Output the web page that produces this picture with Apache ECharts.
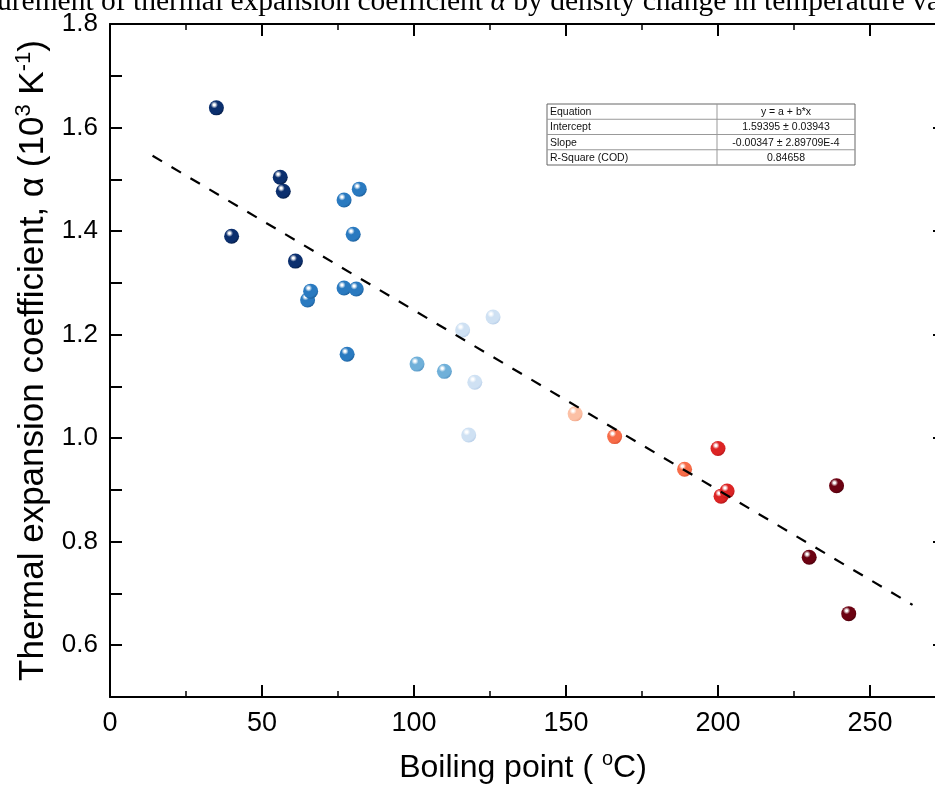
<!DOCTYPE html>
<html>
<head>
<meta charset="utf-8">
<script src="https://cdn.jsdelivr.net/npm/echarts@6/dist/echarts.min.js"></script>
<style>
html, body { margin: 0; padding: 0; background: #fff; }
#container { width: 935px; height: 792px; }
</style>
</head>
<body>
<div id="container"></div>
<script>
// data
var boilingPoint = [35, 40, 56, 57, 61, 65, 66, 77, 82, 80, 77, 81, 78, 101, 110, 116, 126, 120, 118, 153, 166, 189, 200, 201, 203, 239, 230, 243];
var alpha = [1.638, 1.390, 1.504, 1.477, 1.342, 1.267, 1.284, 1.460, 1.481, 1.394, 1.290, 1.288, 1.162, 1.143, 1.129, 1.209, 1.234, 1.108, 1.006, 1.047, 1.003, 0.940, 0.980, 0.888, 0.898, 0.908, 0.770, 0.661];

// linear fit (from the table in the figure)
var intercept = 1.59395;
var slope = -0.00347;
var fitRange = [14, 264];
var fitRows = ['Equation', 'Intercept', 'Slope', 'R-Square (COD)'];
var fitVals = ['y = a + b*x', '1.59395 \u00b1 0.03943', '-0.00347 \u00b1 2.89709E-4', '0.84658'];

var yTicks = [0.6, 0.8, 1.0, 1.2, 1.4, 1.6, 1.8];

// colour bins by boiling point
var binEdges = [62, 90, 112, 140, 160, 195, 220];
var binColors = [
	['#0b2f6e', '#031537'],
	['#2a7ac0', '#17548c'],
	['#70b0d9', '#4b8aba'],
	['#cfe1f3', '#aec6e3'],
	['#fcc0a5', '#eb9c7f'],
	['#f76c48', '#d24627'],
	['#dc2424', '#a11016'],
	['#6c0212', '#3b0009']
];

function sphere(x) {
	var k = 0;
	while (k < binEdges.length && x > binEdges[k]) k++;
	var c = binColors[k];
	return new echarts.graphic.RadialGradient(0.36, 0.3, 0.8, [
		{ offset: 0, color: '#ffffff' },
		{ offset: 0.08, color: '#ffffff' },
		{ offset: 0.3, color: c[0] },
		{ offset: 0.72, color: c[0] },
		{ offset: 1, color: c[1] }
	]);
}

var points = boilingPoint.map(function (x, i) {
	return { value: [x, alpha[i]], itemStyle: { color: sphere(x) } };
});
var fitLine = fitRange.map(function (x) { return [x, intercept + slope * x]; });

var myChart = echarts.init(document.getElementById('container'));

var FONT = 'Liberation Sans, Arial, sans-serif';
var SERIF = 'Liberation Serif, Times New Roman, serif';
var black = { color: '#000', width: 2 };

// fit table
var col1 = 170, col2 = 138, rowH = 15.25;
var tbl = [];
tbl.push({ type: 'rect', shape: { x: 0, y: 0, width: col1 + col2, height: rowH * fitRows.length }, style: { fill: '#fff', stroke: '#666', lineWidth: 1 } });
tbl.push({ type: 'line', shape: { x1: col1, y1: 0, x2: col1, y2: rowH * fitRows.length }, style: { stroke: '#999', lineWidth: 1 } });
fitRows.forEach(function (r, i) {
	if (i > 0) {
		tbl.push({ type: 'line', shape: { x1: 0, y1: rowH * i, x2: col1 + col2, y2: rowH * i }, style: { stroke: '#999', lineWidth: 1 } });
	}
	tbl.push({ type: 'text', x: 3, y: rowH * i + rowH / 2 + 0.5, style: { text: r, fontSize: 10.5, fontFamily: FONT, fill: '#111', verticalAlign: 'middle', align: 'left' } });
	tbl.push({ type: 'text', x: col1 + col2 / 2, y: rowH * i + rowH / 2 + 0.5, style: { text: fitVals[i], fontSize: 10.5, fontFamily: FONT, fill: '#111', verticalAlign: 'middle', align: 'center' } });
});

var nameRich = {
	t: { fontSize: 32, fontFamily: FONT, color: '#000', lineHeight: 38 },
	s: { fontSize: 20, fontFamily: FONT, color: '#000', lineHeight: 38, verticalAlign: 'top', padding: [0, 0, 10, 0] }
};

var option = {
	backgroundColor: '#fff',
	animation: false,
	grid: { left: 110, top: 24, width: 912, height: 673, outerBoundsMode: 'none', containLabel: false },
	xAxis: [{
		type: 'value', position: 'bottom', min: 0, max: 300, interval: 50,
		axisLine: { onZero: false, lineStyle: black },
		axisTick: { inside: true, length: 12, lineStyle: black },
		minorTick: { show: true, splitNumber: 2, length: 6, lineStyle: { color: '#000', width: 1.5 } },
		axisLabel: { fontSize: 27, color: '#000', margin: 13, fontFamily: FONT, showMaxLabel: false },
		splitLine: { show: false },
		name: '{t|Boiling point ( }{s|o}{t|C)}', nameLocation: 'middle', nameGap: 52,
		nameTextStyle: { padding: [0, 86, 0, 0], rich: nameRich }
	}, {
		type: 'value', position: 'top', min: 0, max: 300, interval: 50,
		axisLine: { onZero: false, lineStyle: black },
		axisTick: { inside: true, length: 12, lineStyle: black },
		minorTick: { show: true, splitNumber: 2, length: 6, lineStyle: { color: '#000', width: 1.5 } },
		axisLabel: { show: false }, splitLine: { show: false }
	}],
	yAxis: [{
		type: 'value', position: 'left', min: 0.5, max: 1.8, interval: 0.1,
		axisLine: { onZero: false, lineStyle: black },
		axisTick: { inside: true, length: 12, lineStyle: black },
		axisLabel: {
			fontSize: 26, color: '#000', margin: 12, fontFamily: FONT,
			customValues: yTicks,
			formatter: function (v) { return v.toFixed(1); }
		},
		splitLine: { show: false },
		name: '{t|Thermal expansion coefficient, \u03b1 (10}{s|3}{t| K}{s|-1}{t|)}',
		nameLocation: 'middle', nameGap: 53, nameRotate: 90,
		nameTextStyle: { rich: {
			t: { fontSize: 35, fontFamily: FONT, color: '#000', lineHeight: 41 },
			s: { fontSize: 22, fontFamily: FONT, color: '#000', lineHeight: 41, verticalAlign: 'top', padding: [0, 0, 10, 0] }
		} }
	}, {
		type: 'value', position: 'right', offset: -77, min: 0.5, max: 1.8, interval: 0.1,
		axisLine: { onZero: false, lineStyle: black },
		axisTick: { inside: true, length: 12, lineStyle: black, customValues: yTicks },
		axisLabel: { show: false }, splitLine: { show: false }
	}],
	graphic: [{
		type: 'text', left: -3, top: -13,
		style: {
			text: 'urement of thermal expansion coefficient {i|\u03b1} by density change in temperature va',
			fontSize: 29.5, fontFamily: SERIF, fill: '#000',
			rich: { i: { fontSize: 29.5, fontStyle: 'italic', fontFamily: SERIF, fill: '#000' } }
		}
	}, {
		type: 'group', x: 547, y: 104, children: tbl
	}],
	series: [{
		type: 'scatter',
		symbolSize: 15,
		data: points,
		itemStyle: { opacity: 1 },
		z: 2
	}, {
		type: 'line',
		data: fitLine,
		symbol: 'none',
		lineStyle: { color: '#000', width: 2.2, type: [11, 11] },
		z: 5
	}]
};

myChart.setOption(option);
</script>
</body>
</html>
